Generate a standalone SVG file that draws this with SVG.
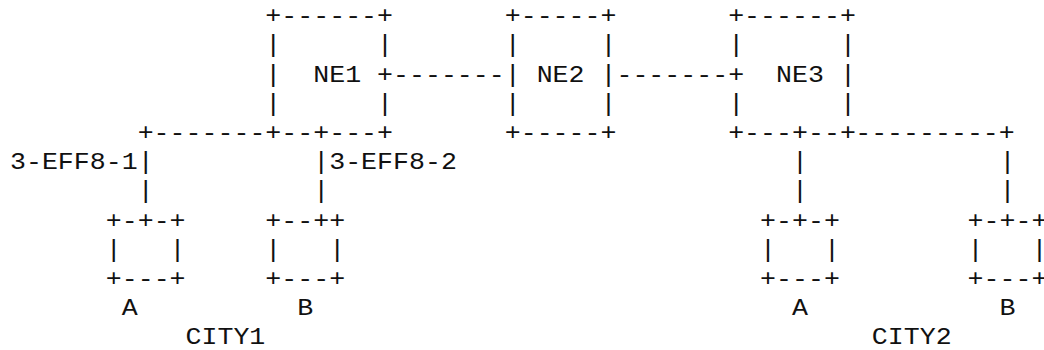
<svg xmlns="http://www.w3.org/2000/svg" width="1044" height="350" viewBox="0 0 1044 350">
  <style>
    text { font-family: "Liberation Mono", "Courier New", monospace; font-size: 24px; fill: #111; white-space: pre; }
  </style>
  <rect width="1044" height="350" fill="#fff"/>
  <!-- monospace grid: column c at x = 9.02 + 14.4c (before the horizontal stretch), rows 29.2px apart -->
  <g transform="scale(1.1083 1)" xml:space="preserve">
    <g id="ne1">
      <text x="239.42" y="23.3">+------+</text>
      <text x="239.42" y="52.5">|      |</text>
      <text x="239.42" y="81.7">|  NE1 +</text>
      <text x="239.42" y="110.9">|      |</text>
      <text x="239.42" y="140.1">+--+---+</text>
    </g>
    <g id="ne2">
      <text x="455.42" y="23.3">+-----+</text>
      <text x="455.42" y="52.5">|     |</text>
      <text x="455.42" y="81.7">| NE2 |</text>
      <text x="455.42" y="110.9">|     |</text>
      <text x="455.42" y="140.1">+-----+</text>
    </g>
    <g id="ne3">
      <text x="657.02" y="23.3">+------+</text>
      <text x="657.02" y="52.5">|      |</text>
      <text x="657.02" y="81.7">+  NE3 |</text>
      <text x="657.02" y="110.9">|      |</text>
      <text x="657.02" y="140.1">+---+--+</text>
    </g>
    <g id="city1-a">
      <text x="95.42" y="227.7">+-+-+</text>
      <text x="95.42" y="256.9">|   |</text>
      <text x="95.42" y="286.1">+---+</text>
      <text x="109.82" y="315.3">A</text>
    </g>
    <g id="city1-b">
      <text x="239.42" y="227.7">+--++</text>
      <text x="239.42" y="256.9">|   |</text>
      <text x="239.42" y="286.1">+---+</text>
      <text x="268.22" y="315.3">B</text>
    </g>
    <g id="city2-a">
      <text x="685.82" y="227.7">+-+-+</text>
      <text x="685.82" y="256.9">|   |</text>
      <text x="685.82" y="286.1">+---+</text>
      <text x="714.62" y="315.3">A</text>
    </g>
    <g id="city2-b">
      <text x="873.02" y="227.7">+-+-+</text>
      <text x="873.02" y="256.9">|   |</text>
      <text x="873.02" y="286.1">+---+</text>
      <text x="901.82" y="315.3">B</text>
    </g>
    <g id="connectors">
      <text x="354.62" y="81.7">-------</text>
      <text x="556.22" y="81.7">-------</text>
      <text x="124.22" y="140.1">+-------</text>
      <text x="771.62" y="140.1">---------+</text>
      <text x="124.22" y="169.3">|</text>
      <text x="282.62" y="169.3">|</text>
      <text x="714.62" y="169.3">|</text>
      <text x="901.82" y="169.3">|</text>
      <text x="124.22" y="198.5">|</text>
      <text x="282.62" y="198.5">|</text>
      <text x="714.62" y="198.5">|</text>
      <text x="901.82" y="198.5">|</text>
      <text x="9.02" y="169.3">3-EFF8-1</text>
      <text x="297.02" y="169.3">3-EFF8-2</text>
    </g>
    <g id="sites">
      <text x="167.42" y="344.5">CITY1</text>
      <text x="786.62" y="344.5">CITY2</text>
    </g>
  </g>
</svg>
